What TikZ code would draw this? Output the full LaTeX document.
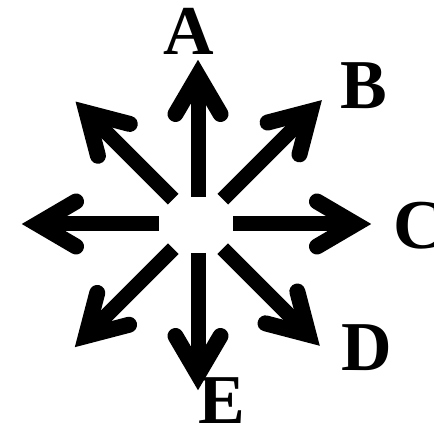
\documentclass[tikz,border=0pt]{standalone}
\usepackage{fontspec}
\setmainfont{Liberation Serif}
\tikzset{
  shaft/.style={line width=15pt, line cap=butt},
  barbs/.style={line width=16pt, line cap=round, line join=miter},
  lab/.style={anchor=base west, inner sep=0pt, font=\fontsize{70}{70}\selectfont\bfseries}
}
\newcommand{\bigarrow}[3]{%
  \begin{scope}[shift={(ctr)}, rotate=#1]
    \draw[shaft] (#2,0) -- ({#3-18},0);
    \draw[barbs] ({#3-56},22.5) -- ({#3-17.6},0) -- ({#3-56},-22.5);
  \end{scope}}
\begin{document}
\begin{tikzpicture}[x=1pt,y=1pt]
\useasboundingbox (0,0) rectangle (434,427);
\coordinate (ctr) at (198,203);
\bigarrow{90}{27}{166}
\bigarrow{45}{35}{177}
\bigarrow{0}{35}{175}
\bigarrow{-45}{35}{174}
\bigarrow{-90}{29}{168}
\bigarrow{-135}{35}{176}
\bigarrow{180}{39}{178}
\bigarrow{135}{35}{175}
\node[lab] (A) at (163,372) {A};
\node[lab] (B) at (340,318) {B};
\node[lab] (C) at (393,178) {C};
\node[lab] (D) at (341,56) {D};
\node[lab] (E) at (198,3) {E};
\end{tikzpicture}
\end{document}
